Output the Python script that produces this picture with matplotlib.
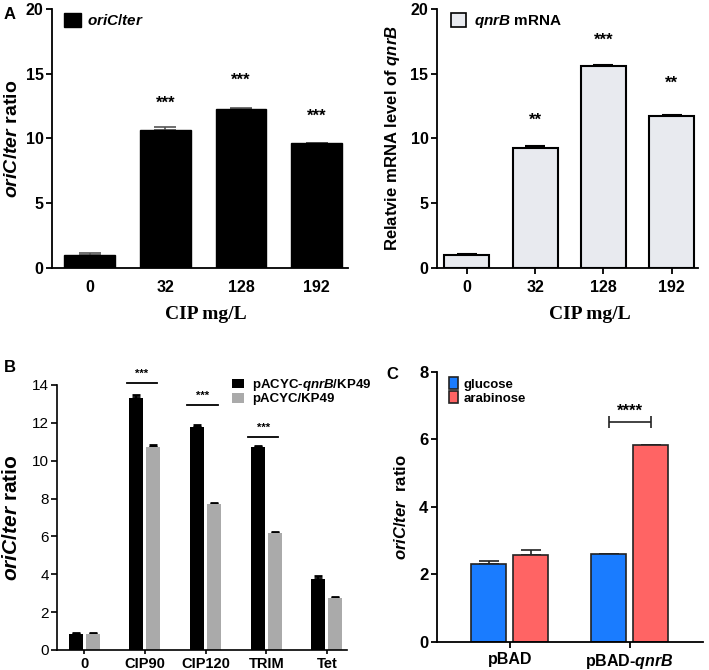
import matplotlib
matplotlib.use("Agg")
import matplotlib.pyplot as plt
import numpy as np

plt.rcParams['font.family'] = ['Liberation Sans', 'DejaVu Sans']
plt.rcParams['mathtext.fontset'] = 'custom'
plt.rcParams['mathtext.rm'] = 'Liberation Sans:bold'
plt.rcParams['mathtext.it'] = 'Liberation Sans:bold:italic'
plt.rcParams['mathtext.bf'] = 'Liberation Sans:bold'

# ---- Data ----
a_cats = ["0", "32", "128", "192"]
a1_vals = [1.0, 10.65, 12.25, 9.65]
a1_err = [0.15, 0.2, 0.1, 0.03]
a1_stars = ["", "***", "***", "***"]
a1_star_y = [0, 12.7, 14.5, 11.7]

a2_vals = [1.0, 9.3, 15.6, 11.75]
a2_err = [0.1, 0.1, 0.1, 0.08]
a2_stars = ["", "**", "***", "**"]
a2_star_y = [0, 11.4, 17.6, 14.3]

b_cats = ["0", "CIP90", "CIP120", "TRIM", "Tet"]
b_qnrb = [0.85, 13.3, 11.8, 10.7, 3.75]
b_qnrb_err = [0.05, 0.15, 0.1, 0.05, 0.15]
b_ctrl = [0.85, 10.7, 7.7, 6.2, 2.75]
b_ctrl_err = [0.05, 0.15, 0.05, 0.05, 0.05]
b_sig_idx = [1, 2, 3]
b_sig_y = [14.1, 12.95, 11.25]

c_cats = ["pBAD", "pBAD-$\\mathit{qnrB}$"]
c_glucose = [2.3, 2.6]
c_glucose_err = [0.1, 0.02]
c_arabinose = [2.57, 5.83]
c_arabinose_err = [0.15, 0.02]

fig = plt.figure(figsize=(7.09, 6.70), dpi=100)

def style_axes(ax, lw=1.3):
    for s in ['top', 'right']:
        ax.spines[s].set_visible(False)
    for s in ['left', 'bottom']:
        ax.spines[s].set_linewidth(lw)

# ---- Panel A1 ----
ax1 = fig.add_axes([0.0733, 0.6, 0.418, 0.3866])
x = np.arange(len(a_cats))
ax1.bar(x, a1_vals, width=0.67, color='black', edgecolor='black', zorder=2)
ax1.errorbar(x, a1_vals, yerr=[np.zeros(len(x)), a1_err], fmt='none',
             ecolor='#555555', capsize=8, elinewidth=1.2, capthick=1.2, zorder=1)
for xi, s, sy in zip(x, a1_stars, a1_star_y):
    if s:
        ax1.text(xi, sy, s, ha='center', va='center', fontsize=12, fontweight='bold')
ax1.set_xlim(-0.5, 3.42)
ax1.set_ylim(0, 20)
ax1.set_yticks([0, 5, 10, 15, 20])
ax1.set_xticks(x)
ax1.set_xticklabels(a_cats)
ax1.tick_params(axis='x', length=0, pad=9)
ax1.tick_params(axis='y', length=4, width=1.3, pad=2)
for lab in ax1.get_xticklabels() + ax1.get_yticklabels():
    lab.set_fontweight('bold'); lab.set_fontsize(11.5)
ax1.set_ylabel("$\\mathit{oriC/ter}$ ratio", fontsize=14, fontweight='bold', labelpad=3)
ax1.set_xlabel("CIP mg/L", fontsize=14, fontweight='bold', family='Liberation Serif')
ax1.xaxis.set_label_coords(0.52, -0.148)
style_axes(ax1)
ax1.legend(handles=[plt.Rectangle((0, 0), 1, 1, fc='black', ec='black')],
           labels=["$\\mathit{oriC/ter}$"], loc='upper left', frameon=False,
           prop={'size': 11, 'weight': 'bold'}, handlelength=1.1, handleheight=1.0,
           bbox_to_anchor=(0.01, 1.02), handletextpad=0.4, borderaxespad=0.2)
fig.text(0.005, 0.972, "A", fontsize=12, fontweight='bold')

# ---- Panel A2 ----
ax2 = fig.add_axes([0.616, 0.6, 0.368, 0.3866])
ax2.bar(x, a2_vals, width=0.66, color='#e8eaef', edgecolor='black', linewidth=1.5, zorder=2)
ax2.errorbar(x, a2_vals, yerr=[np.zeros(len(x)), a2_err], fmt='none',
             ecolor='black', capsize=7, elinewidth=1.2, capthick=1.5, zorder=1)
for xi, s, sy in zip(x, a2_stars, a2_star_y):
    if s:
        ax2.text(xi, sy, s, ha='center', va='center', fontsize=12, fontweight='bold')
ax2.set_xlim(-0.44, 3.38)
ax2.set_ylim(0, 20)
ax2.set_yticks([0, 5, 10, 15, 20])
ax2.set_xticks(x)
ax2.set_xticklabels(a_cats)
ax2.tick_params(axis='x', length=4, width=1.3, pad=5)
ax2.tick_params(axis='y', length=4, width=1.3, pad=2)
for lab in ax2.get_xticklabels() + ax2.get_yticklabels():
    lab.set_fontweight('bold'); lab.set_fontsize(11.5)
ax2.set_ylabel("Relatvie mRNA level of $\\mathit{qnrB}$", fontsize=12, fontweight='bold', labelpad=6)
ax2.set_xlabel("CIP mg/L", fontsize=14, fontweight='bold', family='Liberation Serif')
ax2.xaxis.set_label_coords(0.586, -0.148)
style_axes(ax2)
ax2.legend(handles=[plt.Rectangle((0, 0), 1, 1, fc='#e8eaef', ec='black', lw=1.2)],
           labels=["$\\mathit{qnrB}$ mRNA"], loc='upper left', frameon=False,
           prop={'size': 11, 'weight': 'bold'}, handlelength=1.0, handleheight=1.0,
           bbox_to_anchor=(0.02, 1.02), handletextpad=0.5, borderaxespad=0.2)

# ---- Panel B ----
ax3 = fig.add_axes([0.0804, 0.0299, 0.409, 0.3955])
xb = np.arange(len(b_cats))
w = 0.23
off = 0.14
ax3.bar(xb - off, b_qnrb, width=w, color='black', zorder=2, label="pACYC-$\\mathit{qnrB}$/KP49")
ax3.bar(xb + off, b_ctrl, width=w, color='#aaaaaa', zorder=2, label="pACYC/KP49")
ax3.errorbar(xb - off, b_qnrb, yerr=[np.zeros(len(xb)), b_qnrb_err], fmt='none',
             ecolor='black', capsize=3, elinewidth=1.5, capthick=2, zorder=1)
ax3.errorbar(xb + off, b_ctrl, yerr=[np.zeros(len(xb)), b_ctrl_err], fmt='none',
             ecolor='black', capsize=3, elinewidth=1.5, capthick=2, zorder=1)
for i, sy in zip(b_sig_idx, b_sig_y):
    ax3.plot([i - 0.3, i + 0.2], [sy, sy], color='black', lw=1.3, clip_on=False)
    ax3.text(i - 0.05, sy + 0.22, "***", ha='center', va='bottom', fontsize=8,
             fontweight='bold', clip_on=False)
ax3.set_xlim(-0.45, 4.33)
ax3.set_ylim(0, 14)
ax3.set_yticks(range(0, 15, 2))
ax3.set_xticks(xb)
ax3.set_xticklabels(b_cats)
ax3.tick_params(axis='x', length=3, width=1.2, pad=2)
ax3.tick_params(axis='y', length=4, width=1.2, pad=2)
for lab in ax3.get_xticklabels():
    lab.set_fontweight('bold'); lab.set_fontsize(10.5)
for lab in ax3.get_yticklabels():
    lab.set_fontsize(11)
ax3.set_ylabel("$\\mathit{oriC/ter}$ ratio", fontsize=15, fontweight='bold', labelpad=8)
style_axes(ax3, lw=1.2)
leg = ax3.legend(loc='upper left', frameon=False, bbox_to_anchor=(0.585, 1.05),
                 prop={'size': 9.5, 'weight': 'bold'}, handlelength=0.9, handleheight=0.75,
                 handletextpad=0.6, labelspacing=0.0, borderaxespad=0)
leg.set_clip_on(False)
fig.text(0.005, 0.445, "B", fontsize=12, fontweight='bold')

# ---- Panel C ----
ax4 = fig.add_axes([0.616, 0.0418, 0.375, 0.403])
xc = np.arange(len(c_cats))
wc = 0.29
offc = 0.175
ax4.bar(xc - offc, c_glucose, width=wc, color='#1a7cff', edgecolor='#222222', linewidth=1.2,
        zorder=2, label='glucose')
ax4.bar(xc + offc, c_arabinose, width=wc, color='#ff6464', edgecolor='#222222', linewidth=1.2,
        zorder=2, label='arabinose')
ax4.errorbar(xc - offc, c_glucose, yerr=[np.zeros(len(xc)), c_glucose_err], fmt='none',
             ecolor='#222222', capsize=7, elinewidth=1.2, capthick=1.2, zorder=1)
ax4.errorbar(xc + offc, c_arabinose, yerr=[np.zeros(len(xc)), c_arabinose_err], fmt='none',
             ecolor='#222222', capsize=7, elinewidth=1.2, capthick=1.2, zorder=1)
ax4.errorbar([1.0], [6.52], xerr=[[offc], [offc]], fmt='none', ecolor='#222222',
             capsize=4, elinewidth=1.2, capthick=1.2)
ax4.text(1.0, 6.62, "****", ha='center', va='bottom', fontsize=12, fontweight='bold')
ax4.set_xlim(-0.61, 1.61)
ax4.set_ylim(0, 8)
ax4.set_yticks([0, 2, 4, 6, 8])
ax4.set_xticks(xc)
ax4.set_xticklabels(c_cats)
ax4.tick_params(axis='x', length=4, width=1.3, pad=3)
ax4.tick_params(axis='y', length=4, width=1.3, pad=2)
for lab in ax4.get_xticklabels():
    lab.set_fontweight('bold'); lab.set_fontsize(11.5)
for lab in ax4.get_yticklabels():
    lab.set_fontweight('bold'); lab.set_fontsize(12)
ax4.set_ylabel("$\\mathit{oriC/ter}$  ratio", fontsize=12, fontweight='bold', labelpad=7)
style_axes(ax4)
ax4.legend(loc='upper left', frameon=False, bbox_to_anchor=(0.025, 1.0),
           prop={'size': 9.5, 'weight': 'bold'}, handlelength=0.7, handleheight=1.0,
           handletextpad=0.4, labelspacing=0.05, borderaxespad=0)
fig.text(0.545, 0.435, "C", fontsize=12, fontweight='bold')

fig.savefig("out.png", dpi=100)
